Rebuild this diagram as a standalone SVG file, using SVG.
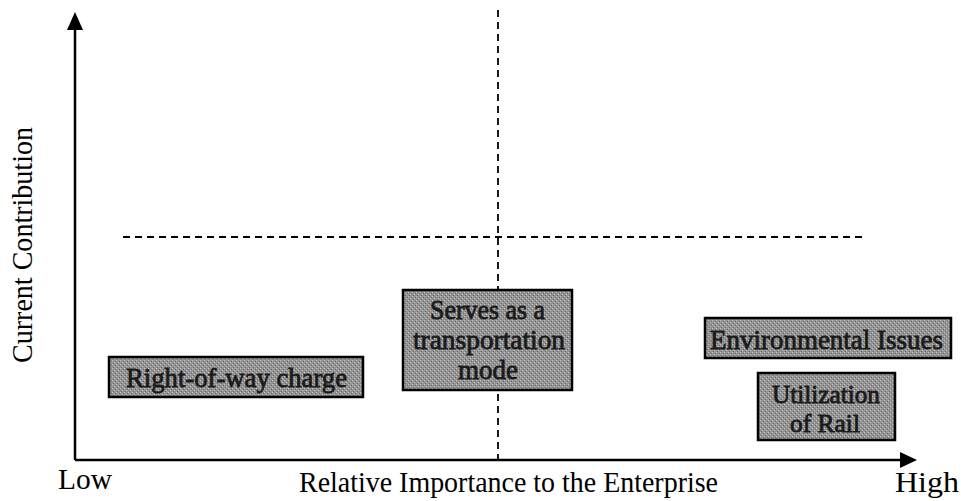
<svg xmlns="http://www.w3.org/2000/svg" width="961" height="501" viewBox="0 0 961 501">
<style>
.ax{stroke:#000;stroke-width:2.5;fill:none}
.dash{stroke:#000;stroke-width:1.8;stroke-dasharray:7,5;fill:none}
.box{stroke:#000;stroke-width:2.5}
.bt{font-family:"Liberation Serif","Times New Roman",serif;font-size:27px;fill:#1a1a1a;stroke:#1a1a1a;stroke-width:0.8}
.sm{font-size:25px}
.lb{font-family:"Liberation Serif","Times New Roman",serif;font-size:29px;fill:#000}
</style>
<defs>
<pattern id="noise" width="4" height="4" patternUnits="userSpaceOnUse">
<rect width="4" height="4" fill="#939393"/>
<rect x="0" y="0" width="1" height="1" fill="#c4c4c4"/>
<rect x="2" y="2" width="1" height="1" fill="#c4c4c4"/>
<rect x="1" y="3" width="1" height="1" fill="#6a6a6a"/>
<rect x="3" y="1" width="1" height="1" fill="#6a6a6a"/>
</pattern>
</defs>
<g id="connectors">
<line class="dash" x1="498" y1="10" x2="498" y2="460"/>
<line class="dash" x1="123" y1="237" x2="862" y2="237"/>
<line class="ax" x1="75" y1="460" x2="75" y2="30"/>
<path d="M67,30 L75,12 L83,30 z" fill="#000"/>
<line class="ax" x1="75" y1="460" x2="900" y2="460"/>
<path d="M900,452 L917,460 L900,468 z" fill="#000"/>
</g>
<g id="axis-labels">
<text class="lb" x="58" y="489" textLength="54" lengthAdjust="spacingAndGlyphs">Low</text>
<text class="lb" x="299" y="492" textLength="419" lengthAdjust="spacingAndGlyphs">Relative Importance to the Enterprise</text>
<text class="lb" x="895" y="492" textLength="64" lengthAdjust="spacingAndGlyphs">High</text>
<text class="lb" transform="translate(32,245) rotate(-90)" text-anchor="middle" textLength="236" lengthAdjust="spacingAndGlyphs">Current Contribution</text>
</g>
<g id="node-right-of-way">
<rect class="box" x="109" y="357" width="254" height="40" fill="url(#noise)"/>
<text class="bt" x="126" y="387" textLength="221" lengthAdjust="spacingAndGlyphs">Right-of-way charge</text>
</g>
<g id="node-serves">
<rect class="box" x="403" y="290" width="169" height="100" fill="url(#noise)"/>
<text class="bt" x="430" y="319" textLength="115" lengthAdjust="spacingAndGlyphs">Serves as a</text>
<text class="bt" x="413" y="349" textLength="152" lengthAdjust="spacingAndGlyphs">transportation</text>
<text class="bt" x="458" y="379" textLength="60" lengthAdjust="spacingAndGlyphs">mode</text>
</g>
<g id="node-environmental">
<rect class="box" x="705" y="318" width="246" height="40" fill="url(#noise)"/>
<text class="bt" x="710" y="349" textLength="233" lengthAdjust="spacingAndGlyphs">Environmental Issues</text>
</g>
<g id="node-utilization">
<rect class="box" x="758" y="373" width="137" height="67" fill="url(#noise)"/>
<text class="bt sm" x="772" y="403" textLength="108" lengthAdjust="spacingAndGlyphs">Utilization</text>
<text class="bt sm" x="790" y="432" textLength="70" lengthAdjust="spacingAndGlyphs">of Rail</text>
</g>
</svg>
